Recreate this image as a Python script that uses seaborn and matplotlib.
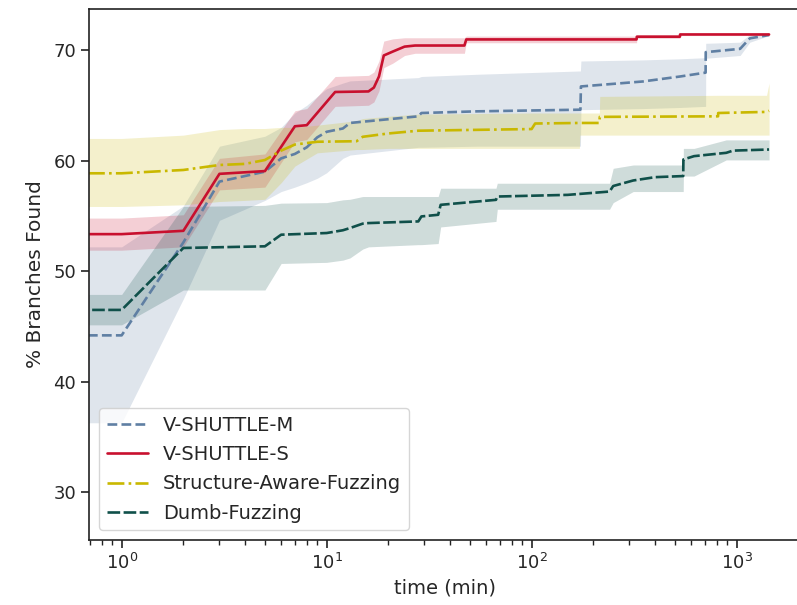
import numpy as np
import pandas as pd
import seaborn as sns
from matplotlib import pyplot as plt
from matplotlib.ticker import LogLocator, NullFormatter

# V-SHUTTLE-M
t_m = [0.5, 1, 2, 3, 5, 6, 7, 8, 9, 10, 12, 13, 28, 29, 54, 173, 174, 349, 530, 706, 707, 1040, 1160, 1440]
m_mean = [44.2, 44.2, 52.6, 58.1, 59.0, 60.2, 60.6, 61.2, 62.1, 62.6, 62.9, 63.4, 64.0, 64.3, 64.45, 64.6,
          66.7, 67.15, 67.6, 67.95, 69.8, 70.1, 71.05, 71.35]
m_hi = [52.2, 52.2, 55.9, 61.3, 62.2, 63.0, 64.3, 65.0, 65.8, 66.5, 67.0, 67.2, 67.5, 67.6, 67.8, 68.1,
        69.0, 69.1, 69.2, 69.3, 70.6, 70.7, 71.4, 71.4]
m_lo = [36.3, 36.3, 47.5, 54.6, 56.4, 57.2, 57.6, 58.0, 58.4, 58.9, 60.2, 60.5, 61.2, 61.2, 61.3, 61.3,
        64.6, 64.7, 64.8, 64.9, 69.25, 69.5, 70.7, 71.3]

# V-SHUTTLE-S
t_s = [0.5, 1, 2, 3, 5, 7, 8, 11, 16, 17, 18, 19, 21, 24, 27, 47, 48, 325, 326, 529, 530, 1440]
s_mean = [53.35, 53.35, 53.65, 58.8, 59.05, 63.1, 63.2, 66.2, 66.25, 66.6, 67.6, 69.5, 69.85, 70.3, 70.4,
          70.4, 70.95, 70.95, 71.2, 71.2, 71.4, 71.4]
s_hi = [54.8, 54.8, 55.1, 60.2, 60.6, 64.5, 64.7, 67.6, 67.7, 68.0, 69.0, 70.8, 71.0, 71.1, 71.1, 71.1,
        71.25, 71.25, 71.35, 71.35, 71.5, 71.5]
s_lo = [51.9, 51.9, 52.2, 57.35, 57.6, 61.7, 61.9, 64.9, 65.0, 65.3, 66.3, 68.4, 68.8, 69.5, 69.7, 69.7,
        70.65, 70.65, 71.05, 71.05, 71.3, 71.3]

# Structure-Aware-Fuzzing
t_a = [0.5, 1, 2, 3, 4, 5, 6, 7, 9, 14, 15, 20, 28, 100, 104, 171, 172, 214, 215, 812, 813, 1400, 1440]
a_mean = [58.85, 58.85, 59.15, 59.6, 59.7, 60.05, 60.9, 61.45, 61.7, 61.75, 62.15, 62.45, 62.7, 62.85,
          63.35, 63.4, 63.4, 63.4, 63.95, 64.0, 64.3, 64.4, 64.5]
a_hi = [62.0, 62.0, 62.3, 62.8, 62.9, 62.9, 63.0, 63.0, 63.2, 63.6, 63.8, 64.0, 64.2, 64.3, 64.3, 64.3,
        64.3, 64.3, 65.8, 65.9, 65.9, 65.9, 67.0]
a_lo = [55.85, 55.85, 56.0, 56.3, 56.4, 56.5, 58.0, 59.5, 60.7, 61.0, 61.0, 61.1, 61.1, 61.1, 61.1, 61.1,
        62.3, 62.3, 62.3, 62.3, 62.3, 62.3, 62.3]

# Dumb-Fuzzing
t_d = [0.5, 1, 2, 5, 6, 10, 12, 13, 15, 16, 28, 29, 35, 36, 67, 68, 150, 240, 250, 313, 400, 549, 550,
       620, 890, 960, 1440]
d_mean = [46.5, 46.5, 52.1, 52.25, 53.3, 53.45, 53.7, 53.9, 54.3, 54.35, 54.5, 54.95, 55.1, 56.0, 56.45,
          56.75, 56.9, 57.2, 57.7, 58.2, 58.5, 58.6, 60.1, 60.4, 60.7, 60.9, 61.0]
d_hi = [47.9, 47.9, 55.85, 55.95, 56.15, 56.2, 56.45, 56.5, 56.75, 56.75, 56.75, 56.75, 56.75, 57.5, 57.5,
        57.95, 57.95, 57.95, 59.3, 59.6, 59.6, 59.6, 61.1, 61.1, 61.87, 61.87, 61.87]
d_lo = [45.15, 45.15, 48.3, 48.3, 50.7, 50.8, 51.0, 51.2, 52.0, 52.2, 52.4, 52.4, 52.5, 54.0, 54.5, 55.6,
        55.6, 55.6, 56.2, 57.2, 57.2, 57.2, 58.6, 58.6, 60.06, 60.06, 60.06]

series = [
    ("V-SHUTTLE-M", t_m, m_mean, m_lo, m_hi, "#5f7fa3", "--"),
    ("V-SHUTTLE-S", t_s, s_mean, s_lo, s_hi, "#c8102e", "-"),
    ("Structure-Aware-Fuzzing", t_a, a_mean, a_lo, a_hi, "#c9b800", "-."),
    ("Dumb-Fuzzing", t_d, d_mean, d_lo, d_hi, "#10504a", (0, (4.8, 1.3))),
]

sns.set_style("ticks")
plt.rcParams["font.family"] = ["DejaVu Sans"]

fig = plt.figure(figsize=(7.97, 6.05), dpi=100)
ax = fig.add_axes([0.112, 0.1074, 0.8936, 0.8777])

for name, t, mean, lo, hi, color, ls in series:
    df = pd.DataFrame({"time": t, "value": mean})
    sns.lineplot(data=df, x="time", y="value", ax=ax, color=color, linestyle=ls,
                 linewidth=1.9, label=name, sort=False, errorbar=None)
    ax.fill_between(t, lo, hi, color=color, alpha=0.2, linewidth=0)

ax.set_xscale("log")
ax.set_xlim(0.695, 2072)
ax.set_ylim(25.7, 73.7)
ax.set_yticks([30, 40, 50, 60, 70])
ax.xaxis.set_minor_locator(LogLocator(base=10, subs=np.arange(2, 10), numticks=20))
ax.xaxis.set_minor_formatter(NullFormatter())
ax.tick_params(which="major", labelsize=13, length=6, width=1.2, color="#222222")
ax.tick_params(axis="x", which="minor", bottom=True, length=3.5, width=1.0, color="#222222")
ax.set_xlabel("time (min)", fontsize=14, labelpad=4)
ax.set_ylabel("% Branches Found", fontsize=14.5, labelpad=6)
for sp in ax.spines.values():
    sp.set_color("#222222")
    sp.set_linewidth(1.2)

ax.legend(loc="lower left", fontsize=14, frameon=True, handlelength=2.1,
          labelspacing=0.52, borderaxespad=0.5)

plt.savefig("out.png", dpi=100)
